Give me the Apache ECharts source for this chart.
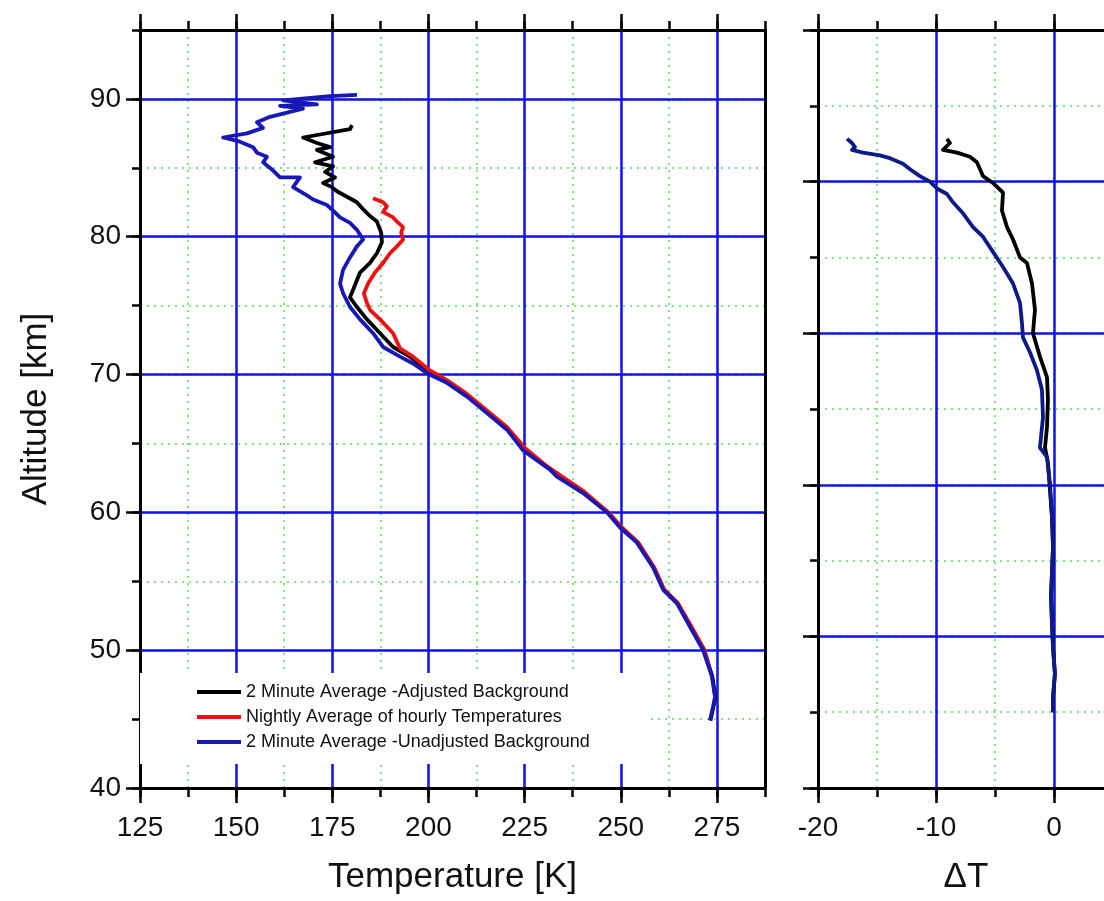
<!DOCTYPE html>
<html>
<head>
<meta charset="utf-8">
<script src="https://cdn.jsdelivr.net/npm/echarts@6/dist/echarts.min.js"></script>
<style>
  html, body { margin: 0; padding: 0; background: #fff; }
  #chart { width: 1104px; height: 901px; }
</style>
</head>
<body>
<div id="chart"></div>
<script>
// ---- Data: [temperature K, altitude km] ----
const adjustedTemp = [
  [180.1, 88.1], [179.6, 87.8], [167.4, 87.2], [171.0, 86.8], [174.4, 86.5], [171.0, 86.3],
  [175.2, 85.8], [170.5, 85.4], [175.2, 85.1], [173.1, 84.7], [175.7, 84.3], [172.6, 83.9],
  [174.9, 83.6], [176.2, 83.3], [178.8, 82.9], [181.4, 82.5], [183.0, 82.0], [184.8, 81.5],
  [186.6, 81.1], [187.7, 80.3], [187.9, 79.6], [186.6, 78.8], [184.8, 78.1], [182.2, 77.4],
  [180.9, 76.5], [179.6, 75.6], [181.4, 74.9], [184.0, 74.0], [187.4, 73.0], [190.8, 72.0],
  [195.2, 71.3], [199.9, 70.3], [205.2, 69.4], [210.5, 68.4], [215.6, 67.2], [220.8, 66.0],
  [225.0, 64.5], [231.9, 63.1], [240.5, 61.4], [246.7, 60.0], [250.0, 58.9], [254.4, 57.8],
  [258.6, 56.0], [261.2, 54.4], [264.8, 53.4], [268.2, 51.7], [271.6, 50.0], [273.8, 48.1],
  [274.6, 46.6], [274.1, 45.9], [273.3, 44.9]
];
const nightlyTemp = [
  [185.6, 82.8], [188.2, 82.5], [189.2, 82.2], [188.2, 81.8], [190.8, 81.4], [191.8, 81.1],
  [193.4, 80.7], [192.9, 80.3], [193.4, 79.8], [191.8, 79.3], [190.0, 78.8], [188.2, 78.1],
  [186.1, 77.4], [184.3, 76.6], [183.2, 75.9], [184.0, 75.2], [184.8, 74.7], [187.4, 74.0],
  [190.8, 73.0], [192.6, 71.9], [196.0, 71.3], [200.4, 70.3], [204.8, 69.6], [210.0, 68.6],
  [215.2, 67.4], [220.4, 66.2], [225.0, 64.7], [231.0, 63.3], [240.5, 61.5], [246.8, 60.0],
  [250.3, 58.9], [254.6, 57.8], [258.7, 56.0], [261.3, 54.4], [264.9, 53.4], [268.4, 51.7],
  [271.8, 50.0], [273.0, 48.8]
];
const unadjustedTemp = [
  [181.4, 90.3], [174.4, 90.2], [162.2, 89.9], [171.0, 89.6], [161.4, 89.5], [167.4, 89.3],
  [158.8, 88.7], [155.4, 88.3], [157.0, 87.9], [152.8, 87.5], [146.6, 87.2], [151.0, 86.9],
  [154.4, 86.5], [155.4, 86.1], [158.0, 85.8], [157.0, 85.4], [159.6, 84.8], [161.4, 84.3],
  [166.6, 84.3], [164.8, 83.6], [168.4, 83.0], [170.0, 82.7], [173.6, 82.3], [175.2, 81.9],
  [177.0, 81.4], [179.6, 81.0], [181.4, 80.5], [183.0, 79.8], [181.4, 79.3], [179.6, 78.5],
  [177.8, 77.6], [177.0, 76.6], [177.8, 75.9], [179.6, 74.9], [182.2, 74.0], [185.6, 73.0],
  [188.2, 72.0], [192.6, 71.3], [196.0, 70.8], [199.6, 70.1], [204.8, 69.4], [210.0, 68.4],
  [215.2, 67.2], [220.4, 66.0], [224.6, 64.5], [231.6, 63.1], [233.4, 62.6], [240.2, 61.4],
  [246.4, 60.0], [249.8, 58.9], [254.2, 57.8], [258.4, 56.0], [261.0, 54.4], [264.6, 53.4],
  [268.0, 51.7], [271.4, 50.0], [273.7, 48.1], [274.5, 46.6], [274.0, 45.9], [273.2, 44.9]
];

// ---- Data: [delta T, altitude km] ----
const deltaAdjusted = [
  [-9.07, 87.1], [-8.81, 86.8], [-9.41, 86.3], [-8.22, 86.1], [-7.12, 85.8], [-6.53, 85.4],
  [-6.27, 84.9], [-6.02, 84.4], [-5.17, 83.9], [-4.32, 83.2], [-4.41, 81.9], [-3.98, 80.7],
  [-3.47, 79.8], [-2.88, 78.5], [-2.29, 78.1], [-1.86, 76.6], [-1.61, 74.7], [-1.78, 73.0],
  [-1.19, 71.3], [-0.59, 69.8], [-0.51, 68.2], [-0.59, 66.2], [-0.76, 64.7], [-0.51, 63.6],
  [-0.34, 61.6], [-0.17, 59.7], [-0.08, 57.5], [-0.25, 53.9], [-0.17, 52.0], [-0.08, 50.2],
  [0.08, 48.3], [-0.08, 46.6], [-0.08, 45.5]
];
const deltaUnadjusted = [
  [-17.54, 87.1], [-17.12, 86.8], [-16.86, 86.5], [-17.12, 86.3], [-16.19, 86.1], [-14.75, 85.9],
  [-13.90, 85.7], [-12.80, 85.3], [-12.20, 84.9], [-11.36, 84.4], [-10.51, 84.0], [-9.92, 83.5],
  [-9.07, 83.1], [-8.56, 82.5], [-7.71, 81.7], [-6.86, 80.7], [-6.02, 80.0], [-5.17, 78.9],
  [-4.32, 77.8], [-3.47, 76.6], [-2.88, 75.2], [-2.71, 73.7], [-2.63, 72.7], [-2.03, 71.6],
  [-1.44, 70.3], [-1.02, 68.9], [-0.93, 66.9], [-1.19, 64.7], [-0.59, 64.0], [-0.34, 62.1],
  [-0.17, 59.7], [-0.08, 57.5], [-0.25, 53.9], [-0.17, 52.0], [-0.08, 50.2], [0.08, 48.3],
  [-0.08, 46.6], [-0.08, 45.5]
];

// ---- Tick values ----
const tempTicks = [125, 150, 175, 200, 225, 250, 275];
const altTicks = [40, 50, 60, 70, 80, 90];
const deltaTicks = [-20, -10, 0];
const deltaMinorTicks = [-20, -15, -10, -5, 0];
const deltaAltTicks = [40, 51, 62, 73, 84, 95];
const deltaAltMinorTicks = [40, 45.5, 51, 56.5, 62, 67.5, 73, 78.5, 84, 89.5, 95];

const seriesNames = [
  '2 Minute Average -Adjusted Background',
  'Nightly Average of hourly Temperatures',
  '2 Minute Average -Unadjusted Background'
];

const FONT = '"Liberation Sans", Arial, Helvetica, sans-serif';
const TEXT = '#111';
const axisLineStyle = { show: true, onZero: false, lineStyle: { color: '#000', width: 3 } };
const noLine = { show: false, onZero: false };
const majorGrid = { show: true, lineStyle: { color: '#1212ee', width: 2.5 } };
const minorGrid = { show: true, lineStyle: { color: '#5cd85c', width: 1.5, type: [2, 5] } };
const tickStyle = { color: '#000', width: 2.5 };

function axis(dim, opts) {
  const a = {
    type: 'value',
    gridIndex: opts.grid,
    position: opts.position,
    min: opts.min,
    max: opts.max,
    z: opts.major ? 1 : 0,
    axisLine: opts.line ? axisLineStyle : noLine,
    axisTick: opts.ticks
      ? { show: true, customValues: opts.ticks, length: opts.tickLen, lineStyle: tickStyle }
      : { show: false },
    axisLabel: opts.labels
      ? { show: true, customValues: opts.ticks, fontSize: 28, color: TEXT, fontFamily: FONT,
          margin: dim === 'x' ? 26 : 19 }
      : { show: false },
    splitLine: opts.split === 'major' ? majorGrid : (opts.split === 'minor' ? minorGrid : { show: false }),
    minorTick: { show: false },
    minorSplitLine: { show: false }
  };
  if (opts.interval) a.interval = opts.interval;
  if (opts.name) {
    a.name = opts.name;
    a.nameLocation = 'middle';
    a.nameGap = opts.nameGap;
    a.nameTextStyle = { fontSize: 35, color: TEXT, fontFamily: FONT, padding: opts.namePad || 0 };
  }
  return a;
}

const tempMinor = [];
for (let t = 125; t <= 287.5; t += 12.5) tempMinor.push(t);
const altMinor = [];
for (let h = 40; h <= 95; h += 5) altMinor.push(h);

// right panel runs past the page edge: 11.8 px per kelvin over 286 px
const DELTA_MAX = 4.24;

const option = {
  animation: false,
  backgroundColor: '#fff',
  grid: [
    { left: 140, top: 30, width: 625, height: 758 },
    { left: 818, top: 30, width: 286, height: 758 }
  ],
  xAxis: [
    axis('x', { grid: 0, position: 'bottom', min: 125, max: 287.5, interval: 25, major: true, line: true,
      ticks: tempTicks, tickLen: 15, labels: true, split: 'major', name: 'Temperature [K]', nameGap: 72 }),
    axis('x', { grid: 0, position: 'bottom', min: 125, max: 287.5, interval: 12.5, ticks: tempMinor, tickLen: 9, split: 'minor' }),
    axis('x', { grid: 0, position: 'top', min: 125, max: 287.5, interval: 25, major: true, line: true, ticks: tempTicks, tickLen: 16 }),
    axis('x', { grid: 0, position: 'top', min: 125, max: 287.5, interval: 12.5, ticks: tempMinor, tickLen: 9 }),

    axis('x', { grid: 1, position: 'bottom', min: -20, max: DELTA_MAX, interval: 10, major: true, line: true,
      ticks: deltaTicks, tickLen: 15, labels: true, split: 'major', name: 'ΔT', nameGap: 72, namePad: [0, 0, 0, 10] }),
    axis('x', { grid: 1, position: 'bottom', min: -20, max: DELTA_MAX, interval: 5, ticks: deltaMinorTicks, tickLen: 9, split: 'minor' }),
    axis('x', { grid: 1, position: 'top', min: -20, max: DELTA_MAX, interval: 10, major: true, line: true, ticks: deltaTicks, tickLen: 16 }),
    axis('x', { grid: 1, position: 'top', min: -20, max: DELTA_MAX, interval: 5, ticks: deltaMinorTicks, tickLen: 9 })
  ],
  yAxis: [
    axis('y', { grid: 0, position: 'left', min: 40, max: 95, interval: 10, major: true, line: true,
      ticks: altTicks, tickLen: 14, labels: true, split: 'major', name: 'Altitude [km]', nameGap: 86 }),
    axis('y', { grid: 0, position: 'left', min: 40, max: 95, interval: 5, ticks: altMinor, tickLen: 8, split: 'minor' }),
    axis('y', { grid: 0, position: 'right', min: 40, max: 95, major: true, line: true }),

    axis('y', { grid: 1, position: 'left', min: 40, max: 95, interval: 11, major: true, line: true,
      ticks: deltaAltTicks, tickLen: 15, split: 'major' }),
    axis('y', { grid: 1, position: 'left', min: 40, max: 95, interval: 5.5, ticks: deltaAltMinorTicks, tickLen: 8, split: 'minor' })
  ],
  legend: {
    data: seriesNames,
    orient: 'vertical',
    left: 140,
    top: 673,
    padding: [10, 58, 13, 57],
    backgroundColor: '#fff',
    itemWidth: 44,
    itemHeight: 4,
    itemGap: 7,
    icon: 'rect',
    selectedMode: false,
    textStyle: { fontSize: 18, color: TEXT, fontFamily: FONT }
  },
  series: [
    { name: seriesNames[0], data: adjustedTemp, color: '#000000', xAxisIndex: 0, yAxisIndex: 0 },
    { name: seriesNames[1], data: nightlyTemp, color: '#ee1111', xAxisIndex: 0, yAxisIndex: 0 },
    { name: seriesNames[2], data: unadjustedTemp, color: '#1818b4', xAxisIndex: 0, yAxisIndex: 0 },
    { name: 'ΔT adjusted', data: deltaAdjusted, color: '#000000', xAxisIndex: 4, yAxisIndex: 3 },
    { name: 'ΔT unadjusted', data: deltaUnadjusted, color: '#0e1a86', xAxisIndex: 4, yAxisIndex: 3 }
  ].map(s => Object.assign({
    type: 'line',
    showSymbol: false,
    symbol: 'none',
    z: 2,
    lineStyle: { width: 3.8, color: s.color, join: 'round' },
    itemStyle: { color: s.color }
  }, s))
};

const chart = echarts.init(document.getElementById('chart'), null, { renderer: 'canvas' });
chart.setOption(option);
</script>
</body>
</html>
